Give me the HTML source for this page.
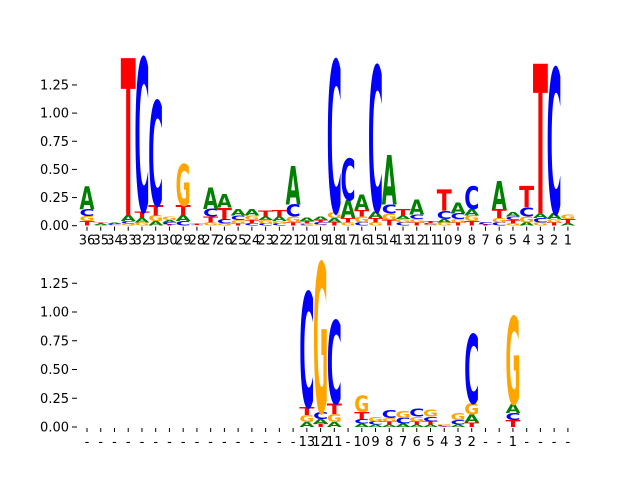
<!DOCTYPE html>
<html><head><meta charset="utf-8"><style>
html,body{margin:0;padding:0;background:#fff;}
svg text.tk{font-family:"DejaVu Sans","Liberation Sans",sans-serif;font-size:13px;fill:#000;}
svg text.lt{font-family:"DejaVu Sans","Liberation Sans",sans-serif;font-weight:bold;font-size:100px;}
</style></head><body>
<svg id="chart" width="640" height="480" viewBox="0 0 640 480" xmlns="http://www.w3.org/2000/svg"></svg>
<script>
// Top logo: stacks bottom-to-top [letter, height]
const topLabels = ["36","35","34","33","32","31","30","29","28","27","26","25","24","23","22","21","20","19","18","17","16","15","14","13","12","11","10","9","8","7","6","5","4","3","2","1"];
const topStacks = [
 [["T",.04],["G",.045],["C",.065],["A",.2]],
 [["C",.005],["A",.008],["T",.01]],
 [["G",.005],["C",.008],["A",.008]],
 [["G",.02],["C",.02],["A",.05],["T",1.4]],
 [["G",.03],["A",.04],["T",.06],["C",1.36]],
 [["A",.04],["G",.05],["T",.09],["C",.93]],
 [["T",.01],["C",.02],["A",.02],["G",.03]],
 [["C",.04],["A",.05],["T",.09],["G",.37]],
 [["G",.004],["C",.004],["T",.01]],
 [["G",.03],["T",.05],["C",.07],["A",.19]],
 [["G",.02],["C",.04],["T",.1],["A",.12]],
 [["T",.02],["G",.03],["C",.04],["A",.06]],
 [["C",.02],["T",.03],["G",.04],["A",.06]],
 [["C",.02],["G",.03],["A",.03],["T",.05]],
 [["C",.02],["G",.02],["A",.04],["T",.06]],
 [["T",.03],["G",.05],["C",.11],["A",.34]],
 [["C",.01],["G",.01],["T",.02],["A",.03]],
 [["G",.01],["C",.02],["T",.02],["A",.03]],
 [["T",.03],["A",.04],["G",.05],["C",1.35]],
 [["G",.03],["T",.04],["A",.16],["C",.37]],
 [["C",.03],["G",.05],["T",.06],["A",.14]],
 [["G",.03],["T",.04],["A",.06],["C",1.29]],
 [["T",.05],["G",.06],["C",.08],["A",.44]],
 [["C",.03],["G",.03],["A",.03],["T",.06]],
 [["T",.03],["G",.03],["C",.04],["A",.13]],
 [["G",.01],["C",.01],["T",.02]],
 [["G",.03],["A",.03],["C",.07],["T",.19]],
 [["T",.03],["G",.03],["C",.05],["A",.1]],
 [["T",.04],["G",.05],["A",.06],["C",.2]],
 [["T",.01],["C",.02]],
 [["C",.03],["G",.04],["T",.08],["A",.25]],
 [["G",.02],["T",.03],["C",.03],["A",.04]],
 [["A",.03],["G",.05],["C",.08],["T",.19]],
 [["G",.03],["C",.04],["A",.04],["T",1.33]],
 [["T",.03],["G",.03],["A",.05],["C",1.29]],
 [["A",.02],["T",.04],["G",.04]]
];
// Bottom logo
const botLabels = ["-","-","-","-","-","-","-","-","-","-","-","-","-","-","-","-","13","12","11","-","10","9","8","7","6","5","4","3","2","-","-","1","-","-","-","-"];
const botStacks = [
 [],[],[],[],[],[],[],[],[],[],[],[],[],[],[],[],
 [["A",.045],["G",.06],["T",.07],["C",1.0]],
 [["T",.03],["A",.04],["C",.06],["G",1.3]],
 [["A",.045],["G",.07],["T",.09],["C",.72]],
 [],
 [["A",.03],["C",.04],["T",.06],["G",.14]],
 [["A",.02],["C",.03],["G",.04]],
 [["A",.02],["T",.03],["G",.03],["C",.07]],
 [["A",.03],["C",.05],["G",.06]],
 [["A",.02],["T",.03],["G",.04],["C",.07]],
 [["A",.02],["T",.03],["C",.04],["G",.06]],
 [["T",.005],["C",.008],["G",.008]],
 [["A",.02],["C",.04],["G",.06]],
 [["T",.04],["A",.07],["G",.1],["C",.6]],
 [],[],
 [["T",.06],["C",.06],["A",.08],["G",.76]],
 [],[],[],[]
];
const yTicks = [0,0.25,0.5,0.75,1.0,1.25];
const yTickLabels = ["0.00","0.25","0.50","0.75","1.00","1.25"];

const NS="http://www.w3.org/2000/svg";
const svg=document.getElementById('chart');
const colors={A:"#008000",C:"#0000ff",G:"#ffa500",T:"#ff0000"};
const x0=87, dx=13.74, lw=15;
function xPos(i){return x0+i*dx;}
function mk(tag,attrs,parent){const e=document.createElementNS(NS,tag);for(const k in attrs)e.setAttribute(k,attrs[k]);(parent||svg).appendChild(e);return e;}

function panel(name,stacks,labels,base,unit){
  const g=mk('g',{});
  
  
  const yScale=v=>base-v*unit;
  yTicks.forEach((t,k)=>{
    const y=yScale(t);
    const ln=mk('line',{x1:72,x2:77,y1:y,y2:y,stroke:'#000','stroke-width':1},g);
    
    
    const tx=mk('text',{x:69,y:y+4.5,'text-anchor':'end',class:'tk'},g);
    tx.textContent=yTickLabels[k];
    
    
  });
  labels.forEach((lab,i)=>{
    const x=xPos(i);
    const ln=mk('line',{x1:x,x2:x,y1:base+1,y2:base+5,stroke:'#000','stroke-width':1},g);
    
    
    const tx=mk('text',{x:x,y:base+19,'text-anchor':'middle',class:'tk'},g);
    tx.textContent=lab;
    
    
  });
  stacks.forEach((st,i)=>{
    let cum=0;
    st.forEach(([L,h])=>{
      const yb=yScale(cum);
      const hp=h*unit;
      cum+=h;
      if(hp<0.3)return;
      const t=mk('text',{class:'lt',x:0,y:0,fill:colors[L],textLength:lw,lengthAdjust:'spacingAndGlyphs',
        transform:`translate(${xPos(i)-lw/2},${yb}) scale(1,${hp/73})`},g);
      t.textContent=L;
      
      
    });
  });
}
panel('top-logo',topStacks,topLabels,225.7,112.6);
panel('bottom-logo',botStacks,botLabels,427,115);
</script>
</body></html>
